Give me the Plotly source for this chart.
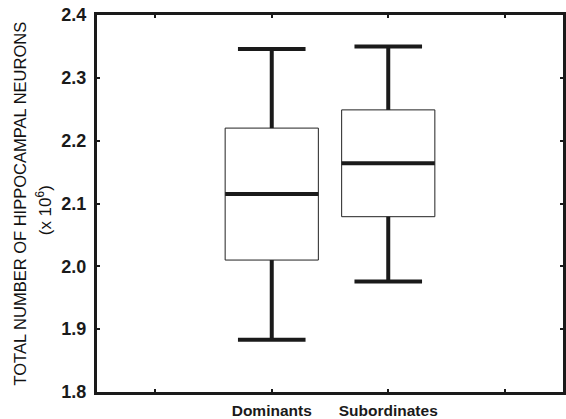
import plotly.graph_objects as go

# ---- data ----
groups = ["Dominants", "Subordinates"]
positions = [1, 2]
lower_whisker = [1.883, 1.976]
q1 = [2.010, 2.079]
median = [2.115, 2.164]
q3 = [2.220, 2.249]
upper_whisker = [2.346, 2.350]

x_tickvals = [0, 1, 2, 3]
x_ticktext = ["", "Dominants", "Subordinates", ""]
y_tickvals = [1.8, 1.9, 2.0, 2.1, 2.2, 2.3, 2.4]
y_ticktext = ["1.8", "1.9", "2.0", "2.1", "2.2", "2.3", "2.4"]

BOX_HALF = 0.40
CAP_HALF = 0.29

fig = go.Figure()

# thin box outlines
for p, a, b in zip(positions, q1, q3):
    fig.add_trace(go.Scatter(
        x=[p - BOX_HALF, p + BOX_HALF, p + BOX_HALF, p - BOX_HALF, p - BOX_HALF],
        y=[a, a, b, b, a], mode="lines",
        line=dict(color="#222222", width=1), hoverinfo="skip", showlegend=False))

# thick whiskers, caps and medians
for p, lo, a, m, b, hi in zip(positions, lower_whisker, q1, median, q3, upper_whisker):
    xs = [p, p, None, p, p, None,
          p - CAP_HALF, p + CAP_HALF, None, p - CAP_HALF, p + CAP_HALF, None,
          p - BOX_HALF, p + BOX_HALF]
    ys = [lo, a, None, b, hi, None,
          lo, lo, None, hi, hi, None,
          m, m]
    fig.add_trace(go.Scatter(x=xs, y=ys, mode="lines",
                             line=dict(color="#1a1a1a", width=4),
                             hoverinfo="skip", showlegend=False))

fig.update_layout(
    width=566, height=419,
    margin=dict(l=97, r=0, t=15, b=26),
    paper_bgcolor="white", plot_bgcolor="white",
    font=dict(family="Liberation Sans, Arial, sans-serif", color="#1a1a1a"),
    showlegend=False,
)

fig.update_xaxes(
    range=[-0.5, 3.5], tickvals=x_tickvals, ticktext=x_ticktext,
    showgrid=False, zeroline=False,
    showline=True, linecolor="#1a1a1a", linewidth=3, mirror="ticks",
    ticks="inside", ticklen=3, tickwidth=2, tickcolor="#1a1a1a",
    tickfont=dict(size=15.5, family="Liberation Sans, Arial, sans-serif", color="#1a1a1a",
                  weight="bold"),
    ticklabelstandoff=2,
)
fig.update_yaxes(
    range=[1.8, 2.4], tickvals=y_tickvals, ticktext=y_ticktext,
    showgrid=False, zeroline=False,
    showline=True, linecolor="#1a1a1a", linewidth=3, mirror="ticks",
    ticks="inside", ticklen=3, tickwidth=2, tickcolor="#1a1a1a",
    tickfont=dict(size=18, family="Liberation Sans, Arial, sans-serif", color="#1a1a1a",
                  weight="bold"),
    ticklabelstandoff=4,
)

fig.add_annotation(
    text="TOTAL NUMBER OF HIPPOCAMPAL NEURONS", textangle=-90,
    xref="paper", yref="paper", x=0, y=0.5, xanchor="center", yanchor="middle",
    xshift=-78, showarrow=False,
    font=dict(size=16.5, family="Liberation Sans, Arial, sans-serif", color="#111111"))
fig.add_annotation(
    text="(x 10<sup>6</sup>)", textangle=-90,
    xref="paper", yref="paper", x=0, y=0.482, xanchor="center", yanchor="middle",
    xshift=-53, showarrow=False,
    font=dict(size=17, family="Liberation Sans, Arial, sans-serif", color="#111111"))

fig.write_html("out.html")
